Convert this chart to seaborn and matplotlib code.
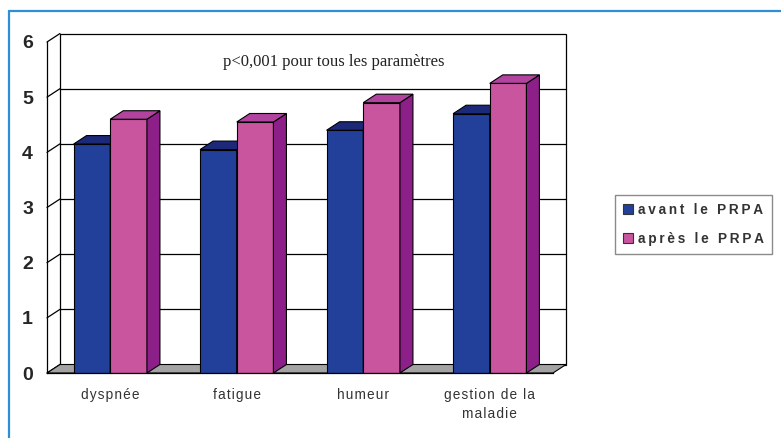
import numpy as np
import pandas as pd
import seaborn as sns
import matplotlib.pyplot as plt
from matplotlib.patches import Polygon, Rectangle
from matplotlib.lines import Line2D

# ---- data -------------------------------------------------------------
categories = ["dyspnée", "fatigue", "humeur", "gestion de la\nmaladie"]
series = ["avant le PRPA", "après le PRPA"]
avant = [4.15, 4.05, 4.4, 4.7]
apres = [4.6, 4.55, 4.9, 5.25]
yticks = [0, 1, 2, 3, 4, 5, 6]
note = "p<0,001 pour tous les paramètres"

# ---- style ------------------------------------------------------------
front_colors = ["#22409a", "#c9559f"]
top_colors = ["#1c2878", "#b2449f"]
side_colors = ["#1a2468", "#8c2088"]
floor_color = "#a3a3a3"
frame_blue = "#2f8fd6"
SANS = ["Liberation Sans", "DejaVu Sans"]
SERIF = ["Liberation Serif", "DejaVu Serif"]

sns.set_style("white")
plt.rcParams["font.family"] = SANS


def spaced(text, gap="\u2009"):
    """Loose letter spacing, line by line."""
    return "\n".join(gap.join(line) for line in text.split("\n"))


df = pd.DataFrame({
    "categorie": categories * 2,
    "serie": [series[0]] * len(categories) + [series[1]] * len(categories),
    "valeur": avant + apres,
})

W, H = 781, 438
fig = plt.figure(figsize=(W / 100, H / 100), dpi=100)
fig.patch.set_facecolor("white")

# front plane of the plot box, in pixels
x_left, x_right, y_bot, y_top = 47, 553, 373, 42
ax = fig.add_axes([x_left / W, 1 - y_bot / H, (x_right - x_left) / W, (y_bot - y_top) / H])
ax.set_facecolor("none")

sns.barplot(data=df, x="categorie", y="valeur", hue="serie", order=categories,
            hue_order=series, palette=front_colors, saturation=1, width=0.58,
            edgecolor="black", linewidth=0.8, errorbar=None, legend=False, ax=ax)
bars = list(ax.patches)

ax.set_xlim(-0.5, 3.5)
ax.set_ylim(0, 6)

# depth of the perspective box, in data units
px_x = (x_right - x_left) / 4.0
px_y = (y_bot - y_top) / 6.0
DX = 13 / px_x
DY = 8.5 / px_y
x0, x1 = -0.5, 3.5
ymax = 6

line_kw = dict(color="black", lw=0.9, clip_on=False, zorder=0.6)

# back wall
ax.add_patch(Rectangle((x0 + DX, DY), x1 - x0, ymax, facecolor="white",
                       edgecolor="black", lw=0.9, clip_on=False, zorder=0.5))
for yv in yticks[1:-1]:
    ax.add_line(Line2D([x0 + DX, x1 + DX], [yv + DY, yv + DY], **line_kw))
# left wall edges
for yv in yticks:
    ax.add_line(Line2D([x0, x0 + DX], [yv, yv + DY], **line_kw))
# floor
ax.add_patch(Polygon([(x0, 0), (x1, 0), (x1 + DX, DY), (x0 + DX, DY)],
                     closed=True, facecolor=floor_color, edgecolor="black",
                     lw=0.8, clip_on=False, zorder=0.7))

# top and side faces for each bar seaborn drew
n_cat = len(categories)
for k, bar in enumerate(bars):
    h_idx = 0 if k < n_cat else 1
    z = 2 + h_idx
    bar.set_zorder(z)
    bx, bw, bh = bar.get_x(), bar.get_width(), bar.get_height()
    side = Polygon([(bx + bw, 0), (bx + bw + DX, DY), (bx + bw + DX, bh + DY), (bx + bw, bh)],
                   closed=True, facecolor=side_colors[h_idx], edgecolor="black",
                   lw=0.8, zorder=z, clip_on=False)
    top = Polygon([(bx, bh), (bx + bw, bh), (bx + bw + DX, bh + DY), (bx + DX, bh + DY)],
                  closed=True, facecolor=top_colors[h_idx], edgecolor="black",
                  lw=0.8, zorder=z, clip_on=False)
    ax.add_patch(side)
    ax.add_patch(top)

# axes
for s in ["top", "right"]:
    ax.spines[s].set_visible(False)
for s in ["left", "bottom"]:
    ax.spines[s].set_color("black")
    ax.spines[s].set_linewidth(0.9)
    ax.spines[s].set_zorder(4)

ax.set_yticks(yticks)
ax.set_yticklabels([str(v) for v in yticks])
for lab in ax.get_yticklabels():
    lab.set_fontweight("bold")
    lab.set_fontsize(14)
    lab.set_fontstretch("condensed")
ax.tick_params(axis="y", direction="out", length=5, width=0.9, color="black", pad=5)

ax.set_xticks(range(n_cat))
ax.set_xticklabels([spaced(c, "\u200a") for c in categories], fontsize=9.8,
                   color="#333333", linespacing=1.45, va="top")
ax.tick_params(axis="x", length=0, pad=11)
ax.set_xticks([x0 + i for i in range(n_cat + 1)], minor=True)
ax.tick_params(axis="x", which="minor", direction="out", length=6, width=0.9, color="black")
ax.set_xlabel("")
ax.set_ylabel("")

ax.text(1.77, 5.64, note, family=SERIF, fontsize=12, ha="center", va="center",
        color="#222222", zorder=5)

# legend
handles = [Rectangle((0, 0), 1, 1, facecolor=c, edgecolor="#333333", lw=0.8)
           for c in front_colors]
leg = ax.legend(handles, [spaced(s) for s in series], loc="center",
                bbox_to_anchor=((615 + 772) / 2 / W, 1 - (196 + 253) / 2 / H),
                bbox_transform=fig.transFigure, frameon=True, fancybox=False,
                handlelength=0.7, handleheight=0.7, handletextpad=0.35,
                borderpad=0.6, labelspacing=1.1, borderaxespad=0,
                prop={"family": SANS, "weight": "bold", "size": 9.8})
leg.get_frame().set_edgecolor("#6e6e6e")
leg.get_frame().set_linewidth(1.0)
for t in leg.get_texts():
    t.set_color("#333333")

# blue frame (top and left edges)
fig.add_artist(Line2D([9 / W, 1], [1 - 11 / H, 1 - 11 / H], transform=fig.transFigure,
                      color=frame_blue, lw=1.6))
fig.add_artist(Line2D([9 / W, 9 / W], [0, 1 - 11 / H], transform=fig.transFigure,
                      color=frame_blue, lw=1.6))

fig.savefig("out.png", dpi=100, facecolor="white")
